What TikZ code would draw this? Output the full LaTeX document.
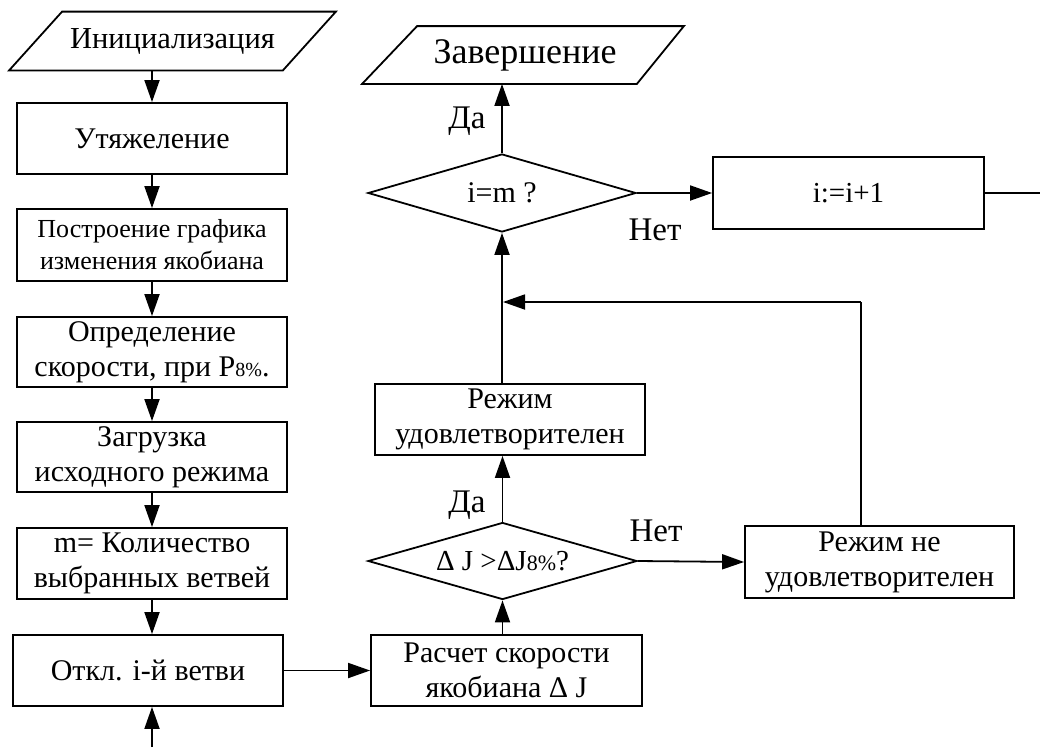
\documentclass[tikz,border=0pt]{standalone}
\usepackage{fontspec}
\setmainfont{Liberation Serif}
\usetikzlibrary{shapes.geometric,arrows.meta,calc}
\begin{document}
\begin{tikzpicture}[x=1pt,y=-1pt,line width=1.8pt,
  box/.style={draw, rectangle, minimum width=270pt, minimum height=71pt, inner sep=0pt, align=center,
    font=\fontsize{30}{35}\selectfont},
  pl/.style={rectangle, minimum width=272pt, minimum height=57pt, inner sep=0pt, align=center},
  dec/.style={draw, diamond, aspect=3.5, minimum width=269pt, minimum height=77pt, inner sep=0pt,
    font=\fontsize{29}{32}\selectfont},
  lab/.style={inner sep=0pt, font=\fontsize{33}{36}\selectfont},
  arr/.style={-{Triangle[length=22pt,width=15pt]}},
  ln/.style={-}]
\useasboundingbox (0,0) rectangle (1040,747);

% left column
\node[pl, font=\fontsize{30.5}{34}\selectfont] (ini) at (172.5,41) {Инициализация};
\draw ($(ini.north west)+(26.5,0)$) -- ($(ini.north east)+(26.5,0)$) --
      ($(ini.south east)+(-26.5,0)$) -- ($(ini.south west)+(-26.5,0)$) -- cycle;
\node[box] (ut) at (152,138.5) {Утяжеление};
\node[box, minimum height=72pt, font=\fontsize{26}{32}\selectfont] (pg) at (152,245) {Построение графика\\изменения якобиана};
\node[box, minimum height=70pt] (opr) at (152,352) {Определение\\скорости, при P{\fontsize{20}{20}\selectfont 8\%}.};
\node[box, minimum height=70pt] (zag) at (152,457) {Загрузка\\исходного режима};
\node[box] (mq) at (152,563.5) {m= Количество\\выбранных ветвей};
\node[box] (otk) at (148,670.5) {Откл. i-й ветви};
\coordinate (entry) at (152,747);

% middle column
\node[box, minimum width=271pt] (ras) at (506.5,670.5) {Расчет скорости\\якобиана Δ J};
\node[dec] (d1) at (502.5,561) {Δ J >ΔJ{\fontsize{22}{22}\selectfont 8\%}?};
\node[box] (rud) at (510,419.5) {Режим\\удовлетворителен};
\node[dec, minimum width=268pt, minimum height=78pt, font=\fontsize{30}{32}\selectfont] (d2) at (502,193) {i=m ?};
\node[pl, minimum width=269pt, minimum height=56pt, font=\fontsize{36}{38}\selectfont] (zav) at (525,55) {Завершение};
\draw ($(zav.north west)+(27.5,0)$) -- ($(zav.north east)+(23.5,0)$) --
      ($(zav.south east)+(-23.5,0)$) -- ($(zav.south west)+(-27.5,0)$) -- cycle;

% right column
\node[box, minimum width=271pt, minimum height=72pt, font=\fontsize{29}{32}\selectfont] (inc) at (848.5,193) {i:=i+1};
\node[box, minimum width=269pt, minimum height=72pt] (rnu) at (879.5,562) {Режим не\\удовлетворителен};
\coordinate (out) at (1040,193);
\coordinate (top) at (861,302);
\coordinate (jn) at (503,302);

% labels
\node[lab] (da1) at (467,121) {Да};
\node[lab] (net1) at (655,230) {Нет};
\node[lab] (da2) at (467,505) {Да};
\node[lab] (net2) at (656,531) {Нет};

% connectors
\draw[arr] (ini.south -| ut.north) -- (ut.north);
\draw[arr] (ut) -- (pg);
\draw[arr] (pg) -- (opr);
\draw[arr] (opr) -- (zag);
\draw[arr] (zag) -- (mq);
\draw[arr] (mq) -- (mq |- otk.north);
\draw[arr] (entry) -- (entry |- otk.south);
\draw[arr] (otk.east) -- (otk.east -| ras.west);
\draw[arr] (ras.north -| d1.south) -- (d1.south);
\draw[arr] (d1.north) -- (d1.north |- rud.south);
\draw[arr] (d1.east) -- (rnu.west);
\draw[arr] (rud.north -| d2.south) -- (d2.south);
\draw[ln] (rnu.north -| top) -- (top);
\draw[arr] (top) -- (jn);
\draw[arr] (d2.north) -- (d2.north |- zav.south);
\draw[arr] (d2.east) -- (inc.west);
\draw[ln] (inc.east) -- (out);
\end{tikzpicture}
\end{document}
